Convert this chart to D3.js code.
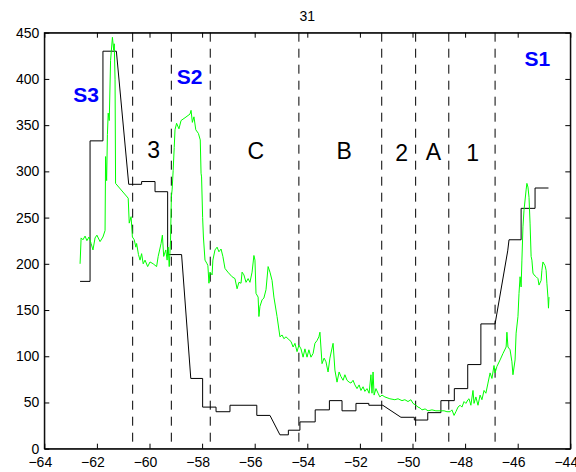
<!DOCTYPE html>
<html>
<head>
<meta charset="utf-8">
<script src="https://cdn.jsdelivr.net/npm/d3@7"></script>
<style>
  html, body { margin: 0; padding: 0; background: #fff; }
  svg { display: block; }
  text { font-family: "Liberation Sans", Arial, Helvetica, sans-serif; }
</style>
</head>
<body>
<svg id="chart" width="576" height="472"></svg>
<script>
// ---------- data ----------
const chartTitle = "31";
const xTicks = [-64, -62, -60, -58, -56, -54, -52, -50, -48, -46, -44];
const yTicks = [0, 50, 100, 150, 200, 250, 300, 350, 400, 450];

// black step profile [x, value]
const blackLine = [
  [-62.64,181],[-62.26,181],[-62.26,333],[-61.77,333],[-61.77,430],[-61.26,430],
  [-60.79,286],[-60.30,286],[-60.30,289],[-59.79,289],[-59.79,278],[-59.31,278],
  [-59.31,210],[-58.78,210],[-58.43,76],[-57.98,76],[-57.98,45],[-57.47,45],
  [-57.47,40],[-56.94,40],[-56.94,47],[-55.92,47],[-55.92,36],[-55.42,36],
  [-55.04,15],[-54.72,15],[-54.72,20],[-54.28,20],[-54.28,29],[-53.70,29],
  [-53.70,42],[-53.16,42],[-53.16,52],[-52.68,52],[-52.68,41],[-52.15,41],
  [-52.15,49],[-51.66,49],[-51.66,47],[-51.13,47],[-50.44,34],[-49.93,34],
  [-49.93,31],[-49.42,31],[-49.42,39],[-48.92,39],[-48.92,52],[-48.41,52],
  [-48.41,65],[-47.90,65],[-47.90,91],[-47.40,91],[-47.40,135],[-46.86,135],
  [-46.38,214],[-46.33,226],[-45.87,226],[-45.87,260],[-45.34,260],[-45.34,282],
  [-44.83,282]
];

// green noisy profile [x, value]
const greenLine = [
  [-62.64,200],[-62.60,228],[-62.53,226],[-62.45,230],[-62.38,225],[-62.30,229],[-62.22,222],[-62.15,215],
  [-62.07,228],[-62.00,231],[-61.88,224],[-61.77,229],[-61.69,236],[-61.67,316],[-61.63,290],[-61.60,340],
  [-61.57,363],[-61.53,355],[-61.48,420],[-61.41,445],[-61.36,431],[-61.34,438],[-61.31,399],[-61.29,287],
  [-60.81,271],[-60.77,244],[-60.70,251],[-60.65,229],[-60.58,226],[-60.52,218],[-60.49,222],[-60.42,210],
  [-60.36,204],[-60.30,211],[-60.24,200],[-60.17,204],[-60.07,197],[-59.98,202],[-59.86,200],[-59.73,197],
  [-59.67,208],[-59.56,222],[-59.51,231],[-59.46,208],[-59.38,215],[-59.33,204],[-59.29,218],[-59.25,197],
  [-59.20,225],[-59.17,272],[-59.14,280],[-59.10,301],[-59.06,326],[-59.03,345],[-58.97,352],[-58.88,346],
  [-58.80,355],[-58.65,358],[-58.46,362],[-58.42,366],[-58.37,353],[-58.31,359],[-58.24,345],[-58.14,341],
  [-58.07,334],[-58.04,298],[-58.02,294],[-57.98,250],[-57.95,229],[-57.89,204],[-57.81,200],[-57.78,198],
  [-57.74,179],[-57.70,191],[-57.62,188],[-57.59,204],[-57.51,215],[-57.43,218],[-57.36,213],[-57.28,216],
  [-57.21,208],[-57.13,195],[-57.02,191],[-56.86,186],[-56.75,184],[-56.67,173],[-56.60,180],[-56.52,179],
  [-56.48,191],[-56.41,188],[-56.33,180],[-56.25,184],[-56.18,180],[-56.10,191],[-56.03,209],[-55.99,204],
  [-55.95,168],[-55.87,164],[-55.84,143],[-55.80,154],[-55.72,161],[-55.65,163],[-55.57,172],[-55.49,197],
  [-55.42,191],[-55.34,182],[-55.27,164],[-55.15,143],[-55.04,121],[-54.96,123],[-54.89,119],[-54.81,121],
  [-54.70,118],[-54.62,116],[-54.54,110],[-54.47,114],[-54.39,105],[-54.32,112],[-54.24,108],[-54.16,99],
  [-54.09,108],[-54.01,99],[-53.94,107],[-53.86,99],[-53.78,103],[-53.71,114],[-53.63,117],[-53.56,121],
  [-53.52,126],[-53.44,92],[-53.36,98],[-53.29,94],[-53.21,83],[-53.14,98],[-53.02,114],[-52.95,85],
  [-52.87,72],[-52.79,83],[-52.72,78],[-52.64,74],[-52.57,80],[-52.49,74],[-52.41,72],[-52.34,71],
  [-52.26,74],[-52.19,69],[-52.11,65],[-52.03,69],[-51.96,63],[-51.88,67],[-51.81,62],[-51.73,65],
  [-51.65,60],[-51.58,80],[-51.54,60],[-51.50,83],[-51.46,58],[-51.39,65],[-51.31,60],[-51.24,56],
  [-51.16,58],[-51.05,56],[-50.86,54],[-50.67,53],[-50.55,54],[-50.40,52],[-50.29,53],[-50.17,51],
  [-50.06,53],[-49.98,49],[-49.87,47],[-49.79,45],[-49.71,44],[-49.64,42],[-49.52,43],[-49.41,41],
  [-49.26,42],[-49.11,41],[-48.95,41],[-48.80,41],[-48.69,40],[-48.57,40],[-48.50,42],[-48.42,36],
  [-48.35,40],[-48.27,45],[-48.19,47],[-48.12,45],[-48.04,51],[-47.97,49],[-47.89,53],[-47.85,54],
  [-47.78,47],[-47.70,63],[-47.66,49],[-47.59,56],[-47.51,47],[-47.43,58],[-47.36,53],[-47.28,63],
  [-47.21,60],[-47.13,71],[-47.05,82],[-46.98,76],[-46.90,90],[-46.86,82],[-46.79,89],[-46.67,96],
  [-46.56,103],[-46.44,110],[-46.41,126],[-46.37,110],[-46.29,107],[-46.22,94],[-46.18,80],[-46.10,96],
  [-46.06,125],[-45.99,143],[-45.95,168],[-45.91,186],[-45.87,175],[-45.84,204],[-45.80,240],[-45.76,258],
  [-45.72,269],[-45.68,280],[-45.65,287],[-45.61,283],[-45.57,272],[-45.53,244],[-45.49,208],[-45.46,204],
  [-45.42,190],[-45.38,188],[-45.30,186],[-45.23,184],[-45.19,177],[-45.11,182],[-45.08,193],[-45.04,202],
  [-44.96,198],[-44.92,193],[-44.89,179],[-44.85,164],[-44.83,152],[-44.81,164]
];

// dashed zone boundaries
const dividers = [-60.64, -59.17, -57.69, -54.32, -51.17, -49.88, -48.62, -46.86];

// zone labels [text, x, y]
const zoneLabels = [
  ["3", -59.84, 315], ["C", -55.96, 313], ["B", -52.60, 313],
  ["2", -50.41, 311], ["A", -49.20, 312.5], ["1", -47.71, 311]
];
// station labels [text, x, y]
const stationLabels = [["S3", -62.41, 375], ["S2", -58.48, 394.5], ["S1", -45.25, 413.5]];

// ---------- drawing ----------
const W = 576, H = 472;
const mLeft = 44.3, mRight = 570.3, mTop = 32.7, mBottom = 448.7;
const svg = d3.select("#chart");
svg.append("rect").attr("width", W).attr("height", H).attr("fill", "#fff");

const x = d3.scaleLinear().domain([-64, -44]).range([mLeft, mRight]);
const y = d3.scaleLinear().domain([0, 450]).range([mBottom, mTop]);

const fmt = d => d3.format("")(d).replace("-", "\u2212");

// bottom axis
const gx = svg.append("g").attr("transform", `translate(0,${mBottom})`)
  .call(d3.axisBottom(x).tickValues(xTicks).tickFormat(fmt).tickSizeInner(-5).tickSizeOuter(0).tickPadding(8));
gx.selectAll("text").attr("dx", "-4.5").attr("font-size", 14);
// top axis
svg.append("g").attr("transform", `translate(0,${mTop})`)
  .call(d3.axisTop(x).tickValues(xTicks).tickFormat("").tickSizeInner(-5).tickSizeOuter(0));
// left axis
const gy = svg.append("g").attr("transform", `translate(${mLeft},0)`)
  .call(d3.axisLeft(y).tickValues(yTicks).tickFormat(d3.format("")).tickSizeInner(-5).tickSizeOuter(0).tickPadding(5));
gy.selectAll("text").attr("font-size", 14);
// right axis
svg.append("g").attr("transform", `translate(${mRight},0)`)
  .call(d3.axisRight(y).tickValues(yTicks).tickFormat("").tickSizeInner(-5).tickSizeOuter(0));

svg.selectAll(".domain, .tick line").attr("stroke", "#000").attr("stroke-width", 1);
svg.selectAll(".tick text").attr("fill", "#000").attr("font-family", "'Liberation Sans', Arial, Helvetica, sans-serif");

// box
svg.append("rect").attr("x", mLeft).attr("y", mTop).attr("width", mRight - mLeft).attr("height", mBottom - mTop)
  .attr("fill", "none").attr("stroke", "#000").attr("stroke-width", 1);

// title
svg.append("text").attr("x", (mLeft + mRight) / 2).attr("y", 20.7).attr("text-anchor", "middle")
  .attr("font-size", 14).attr("fill", "#000").text(chartTitle);

// dashed dividers
svg.append("g").selectAll("line").data(dividers).join("line")
  .attr("x1", d => x(d)).attr("x2", d => x(d))
  .attr("y1", y(450)).attr("y2", y(0))
  .attr("stroke", "#000").attr("stroke-width", 1).attr("stroke-dasharray", "9,7");

const line = d3.line().x(d => x(d[0])).y(d => y(d[1]));

// black step line
svg.append("path").datum(blackLine).attr("d", line)
  .attr("fill", "none").attr("stroke", "#000").attr("stroke-width", 1);

// green line
svg.append("path").datum(greenLine).attr("d", line)
  .attr("fill", "none").attr("stroke", "#00ff00").attr("stroke-width", 1).attr("stroke-linejoin", "round");

// zone labels
svg.append("g").selectAll("text").data(zoneLabels).join("text")
  .attr("x", d => x(d[1])).attr("y", d => y(d[2]))
  .attr("text-anchor", "middle").attr("font-size", 23).attr("fill", "#000")
  .text(d => d[0]);

// station labels
svg.append("g").selectAll("text").data(stationLabels).join("text")
  .attr("x", d => x(d[1])).attr("y", d => y(d[2]))
  .attr("text-anchor", "middle").attr("font-size", 21).attr("font-weight", "bold").attr("fill", "#0000ff")
  .text(d => d[0]);
</script>
</body>
</html>
